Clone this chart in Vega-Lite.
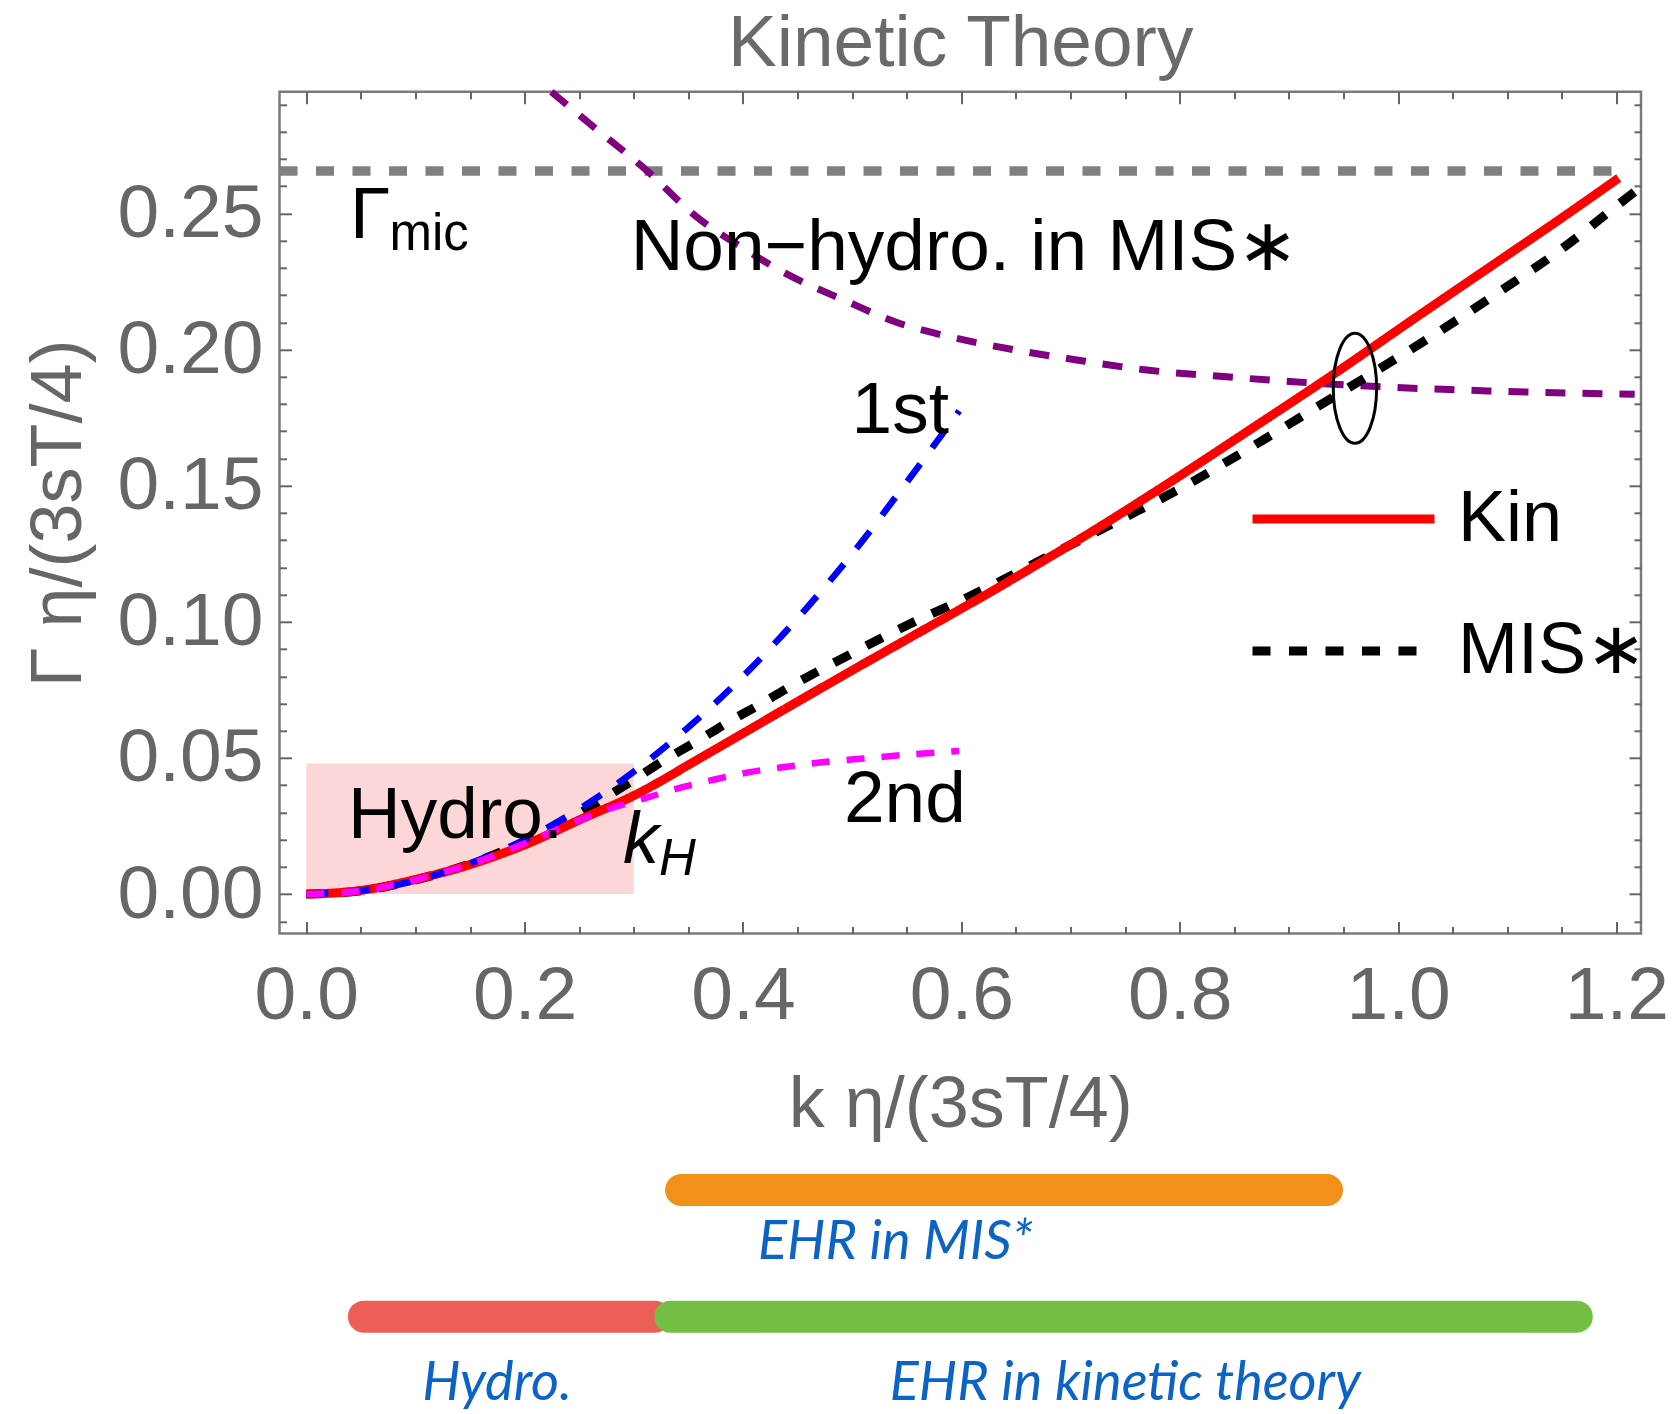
{
  "$schema": "https://vega.github.io/schema/vega-lite/v6.json",
  "width": 1361.5,
  "height": 841.8,
  "autosize": {"type": "none"},
  "padding": {"left": 279.5, "top": 91.8, "right": 32, "bottom": 480.4},
  "background": "white",
  "config": {"view": {"stroke": "#7a7a7a", "strokeWidth": 2.5}, "font": "Liberation Sans"},
  "datasets": {
    "curves": [
      {"k": 0.000, "g": 0.0000, "series": "MIS∗"},
      {"k": 0.050, "g": 0.0012, "series": "MIS∗"},
      {"k": 0.100, "g": 0.0052, "series": "MIS∗"},
      {"k": 0.150, "g": 0.0111, "series": "MIS∗"},
      {"k": 0.200, "g": 0.0192, "series": "MIS∗"},
      {"k": 0.231, "g": 0.0250, "series": "MIS∗"},
      {"k": 0.250, "g": 0.0295, "series": "MIS∗"},
      {"k": 0.270, "g": 0.0345, "series": "MIS∗"},
      {"k": 0.300, "g": 0.0420, "series": "MIS∗"},
      {"k": 0.327, "g": 0.0490, "series": "MIS∗"},
      {"k": 0.358, "g": 0.0562, "series": "MIS∗"},
      {"k": 0.385, "g": 0.0628, "series": "MIS∗"},
      {"k": 0.416, "g": 0.0698, "series": "MIS∗"},
      {"k": 0.443, "g": 0.0762, "series": "MIS∗"},
      {"k": 0.474, "g": 0.0830, "series": "MIS∗"},
      {"k": 0.504, "g": 0.0893, "series": "MIS∗"},
      {"k": 0.533, "g": 0.0953, "series": "MIS∗"},
      {"k": 0.562, "g": 0.1010, "series": "MIS∗"},
      {"k": 0.596, "g": 0.1072, "series": "MIS∗"},
      {"k": 0.626, "g": 0.1130, "series": "MIS∗"},
      {"k": 0.684, "g": 0.1250, "series": "MIS∗"},
      {"k": 0.748, "g": 0.1380, "series": "MIS∗"},
      {"k": 0.806, "g": 0.1502, "series": "MIS∗"},
      {"k": 0.864, "g": 0.1638, "series": "MIS∗"},
      {"k": 0.922, "g": 0.1780, "series": "MIS∗"},
      {"k": 0.980, "g": 0.1922, "series": "MIS∗"},
      {"k": 1.032, "g": 0.2052, "series": "MIS∗"},
      {"k": 1.090, "g": 0.2205, "series": "MIS∗"},
      {"k": 1.150, "g": 0.2370, "series": "MIS∗"},
      {"k": 1.203, "g": 0.2537, "series": "MIS∗"},
      {"k": 1.2225, "g": 0.2598, "series": "MIS∗"},
      {"k": 0.000, "g": 0.0000, "series": "Kin"},
      {"k": 0.047, "g": 0.0012, "series": "Kin"},
      {"k": 0.099, "g": 0.0053, "series": "Kin"},
      {"k": 0.151, "g": 0.0110, "series": "Kin"},
      {"k": 0.203, "g": 0.0186, "series": "Kin"},
      {"k": 0.252, "g": 0.0276, "series": "Kin"},
      {"k": 0.300, "g": 0.0362, "series": "Kin"},
      {"k": 0.361, "g": 0.0500, "series": "Kin"},
      {"k": 0.422, "g": 0.0642, "series": "Kin"},
      {"k": 0.483, "g": 0.0783, "series": "Kin"},
      {"k": 0.544, "g": 0.0922, "series": "Kin"},
      {"k": 0.605, "g": 0.1060, "series": "Kin"},
      {"k": 0.635, "g": 0.1129, "series": "Kin"},
      {"k": 0.680, "g": 0.1236, "series": "Kin"},
      {"k": 0.712, "g": 0.1313, "series": "Kin"},
      {"k": 0.788, "g": 0.1505, "series": "Kin"},
      {"k": 0.864, "g": 0.1705, "series": "Kin"},
      {"k": 0.941, "g": 0.1910, "series": "Kin"},
      {"k": 1.017, "g": 0.2120, "series": "Kin"},
      {"k": 1.093, "g": 0.2328, "series": "Kin"},
      {"k": 1.150, "g": 0.2484, "series": "Kin"},
      {"k": 1.202, "g": 0.2630, "series": "Kin"}
    ],
    "first": [
      {"k": 0.000, "g": 0.0000}, {"k": 0.050, "g": 0.0013}, {"k": 0.100, "g": 0.0050},
      {"k": 0.150, "g": 0.0113}, {"k": 0.200, "g": 0.0200}, {"k": 0.250, "g": 0.0313},
      {"k": 0.300, "g": 0.0450}, {"k": 0.350, "g": 0.0613}, {"k": 0.400, "g": 0.0800},
      {"k": 0.450, "g": 0.1013}, {"k": 0.500, "g": 0.1250}, {"k": 0.550, "g": 0.1513},
      {"k": 0.598, "g": 0.1775}
    ],
    "second": [
      {"k": 0.000, "g": 0.0000}, {"k": 0.050, "g": 0.0012}, {"k": 0.100, "g": 0.0053},
      {"k": 0.150, "g": 0.0110}, {"k": 0.200, "g": 0.0186}, {"k": 0.250, "g": 0.0272},
      {"k": 0.275, "g": 0.0310}, {"k": 0.310, "g": 0.0352}, {"k": 0.342, "g": 0.0390},
      {"k": 0.376, "g": 0.0423}, {"k": 0.406, "g": 0.0448}, {"k": 0.440, "g": 0.0468},
      {"k": 0.474, "g": 0.0485}, {"k": 0.510, "g": 0.0498}, {"k": 0.544, "g": 0.0510},
      {"k": 0.598, "g": 0.0526}
    ],
    "nonhydro": [
      {"k": 0.2245, "g": 0.2947}, {"k": 0.2593, "g": 0.2831}, {"k": 0.3124, "g": 0.2656},
      {"k": 0.3574, "g": 0.2488}, {"k": 0.398, "g": 0.2378}, {"k": 0.439, "g": 0.2280},
      {"k": 0.4924, "g": 0.2182}, {"k": 0.5437, "g": 0.2096}, {"k": 0.578, "g": 0.2058},
      {"k": 0.634, "g": 0.2010}, {"k": 0.7056, "g": 0.1962}, {"k": 0.7698, "g": 0.1925},
      {"k": 0.8369, "g": 0.1902}, {"k": 0.9041, "g": 0.1882}, {"k": 0.9713, "g": 0.1866},
      {"k": 1.0414, "g": 0.1854}, {"k": 1.0857, "g": 0.1848}, {"k": 1.2167, "g": 0.1836}
    ],
    "box": [{"k0": 0, "k1": 0.3, "g0": 0, "g1": 0.048}],
    "gmic": [{"k0": -0.0245, "k1": 1.2078, "g": 0.2656}],
    "labelsMain": [
      {"k": 0.0401, "g": 0.2409, "label": "Γ"},
      {"k": 0.2971, "g": 0.2292, "label": "Non−hydro. in MIS∗"},
      {"k": 0.4995, "g": 0.1692, "label": "1st"},
      {"k": 0.4925, "g": 0.0266, "label": "2nd"},
      {"k": 0.0383, "g": 0.0205, "label": "Hydro."}
    ],
    "labelsSub": [{"k": 0.0763, "g": 0.2365, "label": "mic"}],
    "labelsK": [{"k": 0.290, "g": 0.0113, "label": "k"}],
    "labelsH": [{"k": 0.323, "g": 0.0070, "label": "H"}],
    "ellipse": [{"k": 0.9605, "g": 0.1858}],
    "bars": [
      {"k0": 0.3433, "k1": 0.9349, "g": -0.1087, "region": "EHR in MIS*"},
      {"k0": 0.0528, "k1": 0.3193, "g": -0.1552, "region": "Hydro."},
      {"k0": 0.3335, "k1": 1.1637, "g": -0.1552, "region": "EHR in kinetic theory"}
    ],
    "barLabels": [
      {"k": 0.5397, "g": -0.134, "label": "EHR in MIS*"},
      {"k": 0.1747, "g": -0.1859, "label": "Hydro."},
      {"k": 0.7502, "g": -0.1859, "label": "EHR in kinetic theory"}
    ]
  },
  "resolve": {"axis": {"x": "independent", "y": "independent"}},
  "layer": [
    {
      "data": {"name": "box"},
      "mark": {"type": "rect", "color": "#fdd7d7"},
      "encoding": {
        "x": {"field": "k0", "type": "quantitative", "scale": {"domain": [-0.0245, 1.2225], "nice": false, "zero": false},
          "axis": {"orient": "bottom", "values": [0, 0.2, 0.4, 0.6, 0.8, 1, 1.2], "format": ".1f", "domain": false, "grid": false, "tickSize": -12, "tickWidth": 2, "tickColor": "#666666", "labelPadding": 96.7, "labelBaseline": "alphabetic", "labelFont": "Liberation Sans", "labelFontSize": 75, "labelColor": "#666666", "labelFlush": false, "labelOverlap": false, "title": "k η/(3sT/4)", "titleFont": "Liberation Sans", "titleFontSize": 72, "titleFontWeight": "normal", "titleColor": "#666666", "titleX": 680.75, "titleY": 193, "titleAlign": "center", "titleBaseline": "alphabetic"}},
        "x2": {"field": "k1"},
        "y": {"field": "g0", "type": "quantitative", "scale": {"domain": [-0.0145, 0.2947], "nice": false, "zero": false},
          "axis": {"orient": "left", "values": [0, 0.05, 0.1, 0.15, 0.2, 0.25], "format": ".2f", "domain": false, "grid": false, "tickSize": -12, "tickWidth": 2, "tickColor": "#666666", "labelPadding": 28.5, "labelFont": "Liberation Sans", "labelFontSize": 75, "labelColor": "#666666", "labelFlush": false, "labelOverlap": false, "title": "Γ η/(3sT/4)", "titleFont": "Liberation Sans", "titleFontSize": 72, "titleFontWeight": "normal", "titleColor": "#666666", "titleAngle": -90, "titleX": -199.5, "titleY": 421, "titleAlign": "center", "titleBaseline": "alphabetic"}},
        "y2": {"field": "g1"}
      }
    },
    {
      "data": {"name": "gmic"},
      "mark": {"type": "rule", "color": "#808080", "strokeWidth": 9.5, "strokeDash": [18, 18.5]},
      "encoding": {
        "x": {"field": "k0", "type": "quantitative", "scale": {"domain": [-0.0245, 1.2225], "nice": false, "zero": false},
          "axis": {"orient": "bottom", "values": [0.05, 0.1, 0.15, 0.25, 0.3, 0.35, 0.45, 0.5, 0.55, 0.65, 0.7, 0.75, 0.85, 0.9, 0.95, 1.05, 1.1, 1.15], "labels": false, "title": null, "domain": false, "grid": false, "tickSize": -7, "tickWidth": 2, "tickColor": "#666666"}},
        "x2": {"field": "k1"},
        "y": {"field": "g", "type": "quantitative", "scale": {"domain": [-0.0145, 0.2947], "nice": false, "zero": false},
          "axis": {"orient": "left", "values": [-0.01, 0.01, 0.02, 0.03, 0.04, 0.06, 0.07, 0.08, 0.09, 0.11, 0.12, 0.13, 0.14, 0.16, 0.17, 0.18, 0.19, 0.21, 0.22, 0.23, 0.24, 0.26, 0.27, 0.28, 0.29], "labels": false, "title": null, "domain": false, "grid": false, "tickSize": -7, "tickWidth": 2, "tickColor": "#666666"}}
      }
    },
    {
      "data": {"name": "nonhydro"},
      "mark": {"type": "line", "color": "#800080", "strokeWidth": 7, "strokeDash": [20, 17], "interpolate": "monotone"},
      "encoding": {
        "x": {"field": "k", "type": "quantitative", "scale": {"domain": [-0.0245, 1.2225], "nice": false, "zero": false},
          "axis": {"orient": "top", "values": [0, 0.2, 0.4, 0.6, 0.8, 1, 1.2], "labels": false, "domain": false, "grid": false, "tickSize": -12, "tickWidth": 2, "tickColor": "#666666", "title": "Kinetic Theory", "titleFont": "Liberation Sans", "titleFontSize": 73, "titleFontWeight": "normal", "titleColor": "#6a6a6a", "titleX": 680.75, "titleY": -26.8, "titleAlign": "center", "titleBaseline": "alphabetic"}},
        "y": {"field": "g", "type": "quantitative", "scale": {"domain": [-0.0145, 0.2947], "nice": false, "zero": false},
          "axis": {"orient": "right", "values": [0, 0.05, 0.1, 0.15, 0.2, 0.25], "labels": false, "title": null, "domain": false, "grid": false, "tickSize": -12, "tickWidth": 2, "tickColor": "#666666"}}
      }
    },
    {
      "data": {"name": "curves"},
      "mark": {"type": "line", "strokeWidth": 9, "interpolate": "monotone"},
      "encoding": {
        "x": {"field": "k", "type": "quantitative", "scale": {"domain": [-0.0245, 1.2225], "nice": false, "zero": false}, "axis": null},
        "y": {"field": "g", "type": "quantitative", "scale": {"domain": [-0.0145, 0.2947], "nice": false, "zero": false}, "axis": null},
        "color": {"field": "series", "type": "nominal", "scale": {"domain": ["Kin", "MIS∗"], "range": ["#ff0000", "#000000"]},
          "legend": {"orient": "none", "legendX": 968.5, "legendY": 331.8, "title": null, "symbolType": "stroke", "symbolSize": 33124, "symbolStrokeWidth": 9, "labelFont": "Liberation Sans", "labelFontSize": 72, "labelColor": "#000000", "labelOffset": 19, "rowPadding": -75, "labelLimit": 500, "padding": 0}},
        "strokeDash": {"field": "series", "type": "nominal", "scale": {"domain": ["Kin", "MIS∗"], "range": [[1, 0], [18, 18.5]]},
          "legend": {"orient": "none", "legendX": 968.5, "legendY": 331.8, "title": null, "symbolType": "stroke", "symbolSize": 33124, "symbolStrokeWidth": 9, "labelFont": "Liberation Sans", "labelFontSize": 72, "labelColor": "#000000", "labelOffset": 19, "rowPadding": -75, "labelLimit": 500, "padding": 0}},
        "order": {"field": "k", "type": "quantitative"}
      }
    },
    {
      "data": {"name": "first"},
      "mark": {"type": "line", "color": "#0000ff", "strokeWidth": 6.5, "strokeDash": [22, 20], "interpolate": "monotone"},
      "encoding": {
        "x": {"field": "k", "type": "quantitative", "scale": {"domain": [-0.0245, 1.2225], "nice": false, "zero": false},
          "axis": {"orient": "top", "values": [0.05, 0.1, 0.15, 0.25, 0.3, 0.35, 0.45, 0.5, 0.55, 0.65, 0.7, 0.75, 0.85, 0.9, 0.95, 1.05, 1.1, 1.15], "labels": false, "title": null, "domain": false, "grid": false, "tickSize": -7, "tickWidth": 2, "tickColor": "#666666"}},
        "y": {"field": "g", "type": "quantitative", "scale": {"domain": [-0.0145, 0.2947], "nice": false, "zero": false},
          "axis": {"orient": "right", "values": [-0.01, 0.01, 0.02, 0.03, 0.04, 0.06, 0.07, 0.08, 0.09, 0.11, 0.12, 0.13, 0.14, 0.16, 0.17, 0.18, 0.19, 0.21, 0.22, 0.23, 0.24, 0.26, 0.27, 0.28, 0.29], "labels": false, "title": null, "domain": false, "grid": false, "tickSize": -7, "tickWidth": 2, "tickColor": "#666666"}}
      }
    },
    {
      "data": {"name": "second"},
      "mark": {"type": "line", "color": "#ff00ff", "strokeWidth": 6.5, "strokeDash": [18, 17], "interpolate": "monotone"},
      "encoding": {
        "x": {"field": "k", "type": "quantitative", "scale": {"domain": [-0.0245, 1.2225], "nice": false, "zero": false}, "axis": null},
        "y": {"field": "g", "type": "quantitative", "scale": {"domain": [-0.0145, 0.2947], "nice": false, "zero": false}, "axis": null}
      }
    },
    {
      "data": {"name": "labelsMain"},
      "mark": {"type": "text", "align": "left", "baseline": "alphabetic", "font": "Liberation Sans", "fontSize": 73, "color": "#000000"},
      "encoding": {
        "x": {"field": "k", "type": "quantitative", "scale": {"domain": [-0.0245, 1.2225], "nice": false, "zero": false}, "axis": null},
        "y": {"field": "g", "type": "quantitative", "scale": {"domain": [-0.0145, 0.2947], "nice": false, "zero": false}, "axis": null},
        "text": {"field": "label"}
      }
    },
    {
      "data": {"name": "labelsSub"},
      "mark": {"type": "text", "align": "left", "baseline": "alphabetic", "font": "Liberation Sans", "fontSize": 51, "color": "#000000"},
      "encoding": {
        "x": {"field": "k", "type": "quantitative", "scale": {"domain": [-0.0245, 1.2225], "nice": false, "zero": false}, "axis": null},
        "y": {"field": "g", "type": "quantitative", "scale": {"domain": [-0.0145, 0.2947], "nice": false, "zero": false}, "axis": null},
        "text": {"field": "label"}
      }
    },
    {
      "data": {"name": "labelsK"},
      "mark": {"type": "text", "align": "left", "baseline": "alphabetic", "font": "Liberation Sans", "fontStyle": "italic", "fontSize": 72, "color": "#000000"},
      "encoding": {
        "x": {"field": "k", "type": "quantitative", "scale": {"domain": [-0.0245, 1.2225], "nice": false, "zero": false}, "axis": null},
        "y": {"field": "g", "type": "quantitative", "scale": {"domain": [-0.0145, 0.2947], "nice": false, "zero": false}, "axis": null},
        "text": {"field": "label"}
      }
    },
    {
      "data": {"name": "labelsH"},
      "mark": {"type": "text", "align": "left", "baseline": "alphabetic", "font": "Liberation Sans", "fontStyle": "italic", "fontSize": 51, "color": "#000000"},
      "encoding": {
        "x": {"field": "k", "type": "quantitative", "scale": {"domain": [-0.0245, 1.2225], "nice": false, "zero": false}, "axis": null},
        "y": {"field": "g", "type": "quantitative", "scale": {"domain": [-0.0145, 0.2947], "nice": false, "zero": false}, "axis": null},
        "text": {"field": "label"}
      }
    },
    {
      "data": {"name": "ellipse"},
      "mark": {"type": "point", "shape": "M0,-1A0.394,1,0,1,1,0,1A0.394,1,0,1,1,0,-1Z", "filled": false, "stroke": "#000000", "strokeWidth": 3, "size": 12100, "opacity": 1},
      "encoding": {
        "x": {"field": "k", "type": "quantitative", "scale": {"domain": [-0.0245, 1.2225], "nice": false, "zero": false}, "axis": null},
        "y": {"field": "g", "type": "quantitative", "scale": {"domain": [-0.0145, 0.2947], "nice": false, "zero": false}, "axis": null}
      }
    },
    {
      "data": {"name": "bars"},
      "transform": [{"filter": "datum.region === 'EHR in MIS*'"}],
      "mark": {"type": "rule", "strokeWidth": 32, "strokeCap": "round", "color": "#f39019"},
      "encoding": {
        "x": {"field": "k0", "type": "quantitative", "scale": {"domain": [-0.0245, 1.2225], "nice": false, "zero": false}, "axis": null},
        "x2": {"field": "k1"},
        "y": {"field": "g", "type": "quantitative", "scale": {"domain": [-0.0145, 0.2947], "nice": false, "zero": false}, "axis": null}
      }
    },
    {
      "data": {"name": "bars"},
      "transform": [{"filter": "datum.region === 'Hydro.'"}],
      "mark": {"type": "rule", "strokeWidth": 32, "strokeCap": "round", "color": "#ec5f57"},
      "encoding": {
        "x": {"field": "k0", "type": "quantitative", "scale": {"domain": [-0.0245, 1.2225], "nice": false, "zero": false}, "axis": null},
        "x2": {"field": "k1"},
        "y": {"field": "g", "type": "quantitative", "scale": {"domain": [-0.0145, 0.2947], "nice": false, "zero": false}, "axis": null}
      }
    },
    {
      "data": {"name": "bars"},
      "transform": [{"filter": "datum.region === 'EHR in kinetic theory'"}],
      "mark": {"type": "rule", "strokeWidth": 32, "strokeCap": "round", "color": "#72bf44"},
      "encoding": {
        "x": {"field": "k0", "type": "quantitative", "scale": {"domain": [-0.0245, 1.2225], "nice": false, "zero": false}, "axis": null},
        "x2": {"field": "k1"},
        "y": {"field": "g", "type": "quantitative", "scale": {"domain": [-0.0145, 0.2947], "nice": false, "zero": false}, "axis": null}
      }
    },
    {
      "data": {"name": "barLabels"},
      "mark": {"type": "text", "align": "center", "baseline": "alphabetic", "font": "Lato", "fontStyle": "italic", "fontSize": 54, "color": "#0b63c5"},
      "encoding": {
        "x": {"field": "k", "type": "quantitative", "scale": {"domain": [-0.0245, 1.2225], "nice": false, "zero": false}, "axis": null},
        "y": {"field": "g", "type": "quantitative", "scale": {"domain": [-0.0145, 0.2947], "nice": false, "zero": false}, "axis": null},
        "text": {"field": "label"}
      }
    }
  ]
}
